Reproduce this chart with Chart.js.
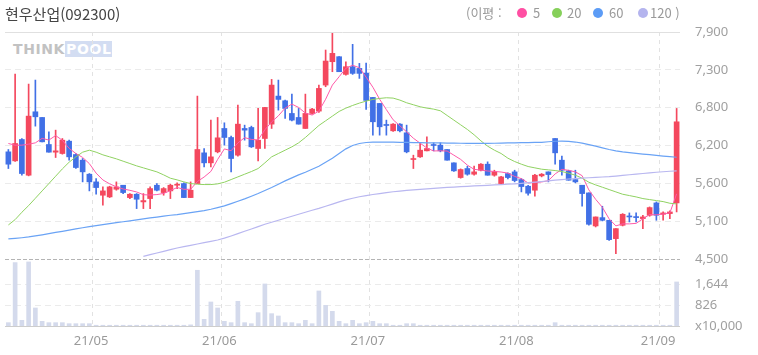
<!DOCTYPE html>
<html lang="ko">
<head>
<meta charset="utf-8">
<title>현우산업(092300)</title>
<script src="https://cdn.jsdelivr.net/npm/chart.js@4.4.1/dist/chart.umd.min.js"></script>
<style>
  html, body { margin: 0; padding: 0; background: #fff; }
  #wrap { position: relative; width: 758px; height: 355px; overflow: hidden;
          font-family: 'Noto Sans', 'Noto Sans CJK KR', sans-serif; }
  #chart { position: absolute; left: 0; top: 0; }
  .title { position: absolute; left: 5px; top: 0; line-height: 27px; font-size: 15px; color: #444;
           font-family: 'Noto Sans CJK KR', 'Noto Sans', sans-serif; }
  .lg { position: absolute; top: 0; line-height: 26px; font-size: 13px; color: #9a9a9a; white-space: nowrap;
        font-family: 'Noto Sans CJK KR', 'Noto Sans', sans-serif; }
  .dot { position: absolute; top: 8px; width: 10px; height: 10px; border-radius: 50%; }
  .logo { position: absolute; left: 13px; top: 41px; font-family: 'DejaVu Sans', sans-serif;
          font-weight: bold; font-size: 14px; letter-spacing: 0.6px; }
  .logo .a { color: #c2c2c2; }
  .logo .b { color: #fff; background: #d3ddf2; padding: 0 1px; }
</style>
</head>
<body>
<div id="wrap">
  <div class="logo"><span class="a">THINK</span><span class="b">POOL</span></div>
  <canvas id="chart" width="758" height="355"></canvas>
  <div class="title">현우산업(092300)</div>
  <div class="lg" style="left:466px">(이평 :</div>
  <div class="dot" style="left:517px;background:#ff4fa3"></div>
  <div class="lg" style="left:533px">5</div>
  <div class="dot" style="left:552px;background:#86d05a"></div>
  <div class="lg" style="left:567px">20</div>
  <div class="dot" style="left:593px;background:#5c9cf6"></div>
  <div class="lg" style="left:609px">60</div>
  <div class="dot" style="left:638px;background:#b4b4ee"></div>
  <div class="lg" style="left:650px">120 )</div>
</div>
<script>
'use strict';

/* ── DATA ── */
// trading days, Apr 14 – Sep 3 2021
const days = {
  '04': [14, 15, 16, 19, 20, 21, 22, 23, 26, 27, 28, 29, 30],
  '05': [3, 4, 6, 7, 10, 11, 12, 13, 14, 17, 18, 20, 21, 24, 25, 26, 27, 28, 31],
  '06': [1, 2, 3, 4, 7, 8, 9, 10, 11, 14, 15, 16, 17, 18, 21, 22, 23, 24, 25, 28, 29, 30],
  '07': [1, 2, 5, 6, 7, 8, 9, 12, 13, 14, 15, 16, 19, 20, 21, 22, 23, 26, 27, 28, 29, 30],
  '08': [2, 3, 4, 5, 6, 9, 10, 11, 12, 13, 17, 18, 19, 20, 23, 24, 25, 26, 27, 30, 31],
  '09': [1, 2, 3]
};

const opens = [
  6105, 5970, 6290, 5755, 6705, 6620, 6215, 6100, 6080, 6265,
  6065, 5980, 5770, 5655, 5455, 5430, 5545, 5605, 5420, 5470,
  5355, 5405, 5605, 5495, 5520, 5605, 5630, 5420, 5630, 6090,
  5940, 6105, 6455, 6320, 6055, 6455, 6470, 6155, 6305, 6520,
  6940, 6870, 6680, 6620, 6455, 6680, 6715, 7105, 7455, 7530,
  7265, 7380, 7355, 7285, 6920, 6830, 6510, 6420, 6520, 6390,
  5990, 6030, 6120, 6210, 6205, 6140, 5940, 5720, 5855, 5770,
  5830, 5920, 5755, 5630, 5780, 5805, 5690, 5590, 5530, 5745,
  5805, 6305, 5980, 5820, 5690, 5605, 5490, 4995, 5120, 5080,
  4805, 5005, 5140, 5130, 5105, 5155, 5340, 5170, 5180, 5340
];
const highs = [
  6140, 7270, 6305, 7120, 7180, 6620, 6405, 6430, 6305, 6280,
  6080, 6005, 5780, 5705, 5580, 5590, 5655, 5605, 5480, 5480,
  5480, 5580, 5630, 5570, 5620, 5640, 5640, 5655, 6940, 6155,
  6580, 6620, 6540, 6340, 6805, 6505, 6490, 6755, 6770, 7190,
  7180, 6880, 6970, 6755, 6970, 6755, 7105, 7630, 7880, 7530,
  7455, 7715, 7430, 7435, 6920, 6830, 6580, 6530, 6530, 6505,
  6055, 6240, 6330, 6240, 6240, 6140, 5940, 5850, 5890, 5890,
  5930, 5955, 5830, 5740, 5790, 5830, 5705, 5605, 5770, 5780,
  5805, 6305, 6040, 5830, 5830, 5605, 5490, 5130, 5290, 5080,
  4955, 5180, 5190, 5190, 5155, 5280, 5355, 5205, 5220, 6755
];
const lows = [
  5855, 5960, 5755, 5745, 6490, 6255, 6100, 6020, 6070, 5980,
  5855, 5655, 5520, 5470, 5305, 5420, 5530, 5480, 5405, 5255,
  5255, 5255, 5520, 5455, 5405, 5555, 5420, 5420, 5630, 5880,
  5880, 6090, 6205, 5805, 6040, 6280, 6170, 5970, 6155, 6455,
  6730, 6605, 6570, 6520, 6455, 6670, 6695, 7080, 7305, 7305,
  7255, 7265, 7205, 6740, 6355, 6355, 6355, 6410, 6405, 6090,
  5855, 6020, 6120, 6120, 6105, 5980, 5810, 5710, 5755, 5755,
  5820, 5755, 5740, 5620, 5700, 5655, 5505, 5455, 5440, 5730,
  5655, 5920, 5755, 5680, 5640, 5290, 5005, 4980, 5070, 4780,
  4580, 4995, 5055, 5055, 4955, 5140, 5080, 5080, 5105, 5205
];
const closes = [
  5920, 6230, 5780, 6640, 6630, 6255, 6100, 6120, 6280, 6030,
  5870, 5805, 5655, 5570, 5520, 5580, 5580, 5495, 5470, 5395,
  5375, 5555, 5530, 5555, 5605, 5610, 5420, 5530, 6140, 5940,
  6030, 6315, 6320, 6005, 6520, 6430, 6180, 6280, 6770, 7105,
  6890, 6755, 6580, 6520, 6680, 6745, 7055, 7465, 7580, 7305,
  7380, 7280, 7280, 6875, 6555, 6480, 6500, 6520, 6420, 6105,
  6000, 6130, 6155, 6200, 6120, 5980, 5820, 5840, 5770, 5805,
  5920, 5755, 5805, 5730, 5720, 5675, 5585, 5485, 5755, 5770,
  5765, 6090, 5830, 5680, 5655, 5480, 5020, 5130, 5080, 4790,
  4955, 5170, 5130, 5120, 5130, 5270, 5155, 5190, 5205, 6555
];
// volume, x10,000 shares
const volumes = [
  132, 2508, 224, 2534, 713, 185, 132, 132, 132, 92,
  92, 92, 92, 30, 30, 30, 30, 30, 30, 30,
  30, 30, 30, 30, 30, 30, 30, 45, 2204, 264,
  950, 713, 185, 132, 977, 132, 92, 528, 1663, 488,
  396, 132, 132, 92, 224, 92, 1386, 818, 581, 185,
  92, 224, 92, 132, 185, 92, 92, 30, 30, 92,
  92, 30, 30, 30, 30, 30, 30, 30, 30, 30,
  30, 30, 30, 30, 30, 30, 30, 30, 30, 30,
  30, 132, 30, 30, 30, 30, 30, 30, 30, 30,
  30, 30, 30, 30, 30, 30, 30, 30, 30, 1742
];
const ma5 = [
  6230, 6205, 6205, 6220, 6240, 6307, 6281, 6349, 6277, 6157,
  6080, 6021, 5928, 5786, 5684, 5626, 5581, 5549, 5529, 5504,
  5463, 5458, 5465, 5482, 5524, 5571, 5544, 5544, 5661, 5728,
  5812, 5991, 6149, 6122, 6238, 6318, 6291, 6283, 6436, 6553,
  6645, 6760, 6820, 6770, 6685, 6656, 6716, 6893, 7105, 7230,
  7357, 7402, 7365, 7223, 7073, 6893, 6737, 6585, 6495, 6405,
  6309, 6235, 6162, 6118, 6121, 6117, 6055, 5992, 5906, 5843,
  5831, 5818, 5811, 5803, 5786, 5737, 5703, 5639, 5644, 5654,
  5673, 5774, 5843, 5828, 5805, 5748, 5534, 5394, 5274, 5101,
  4996, 5026, 5026, 5034, 5102, 5165, 5162, 5174, 5191, 5476
];
const ma20 = [
  5010, 5090, 5200, 5300, 5410, 5520, 5630, 5740, 5850, 5950,
  6030, 6100, 6130, 6100, 6060, 6030, 6000, 5965, 5930, 5895,
  5865, 5835, 5805, 5760, 5710, 5685, 5655, 5630, 5620, 5615,
  5615, 5625, 5650, 5690, 5730, 5770, 5810, 5855, 5940, 6030,
  6080, 6130, 6180, 6240, 6320, 6410, 6500, 6570, 6640, 6710,
  6760, 6800, 6835, 6865, 6890, 6905, 6915, 6910, 6880, 6840,
  6810, 6780, 6760, 6745, 6720, 6650, 6580, 6510, 6440, 6360,
  6270, 6190, 6130, 6080, 6010, 5960, 5920, 5885, 5865, 5845,
  5835, 5825, 5810, 5785, 5755, 5710, 5650, 5610, 5575, 5540,
  5505, 5470, 5450, 5430, 5405, 5390, 5375, 5360, 5335, 5325
];
const ma60 = [
  4800, 4808, 4818, 4830, 4845, 4862, 4880, 4898, 4915, 4932,
  4950, 4968, 4985, 5000, 5015, 5030, 5045, 5058, 5072, 5086,
  5100, 5115, 5128, 5142, 5155, 5165, 5180, 5195, 5210, 5225,
  5245, 5270, 5295, 5330, 5365, 5400, 5440, 5480, 5525, 5570,
  5620, 5670, 5715, 5760, 5800, 5845, 5890, 5950, 6010, 6080,
  6150, 6200, 6230, 6245, 6250, 6252, 6252, 6250, 6248, 6246,
  6244, 6242, 6240, 6240, 6238, 6236, 6235, 6234, 6233, 6232,
  6232, 6232, 6234, 6236, 6238, 6240, 6242, 6244, 6246, 6248,
  6256, 6264, 6266, 6262, 6252, 6236, 6214, 6190, 6165, 6140,
  6120, 6104, 6092, 6082, 6072, 6062, 6052, 6042, 6032, 6024
];
const ma120 = [
  null, null, null, null, null, null, null, null, null, null,
  null, null, null, null, null, null, null, null, null, null,
  4540, 4565, 4590, 4615, 4640, 4665, 4685, 4705, 4725, 4745,
  4765, 4785, 4812, 4845, 4880, 4915, 4950, 4985, 5020, 5050,
  5080, 5110, 5140, 5170, 5200, 5230, 5258, 5290, 5322, 5355,
  5385, 5410, 5432, 5450, 5466, 5480, 5494, 5507, 5518, 5528,
  5536, 5544, 5551, 5558, 5565, 5572, 5578, 5584, 5589, 5594,
  5599, 5604, 5609, 5614, 5620, 5626, 5634, 5643, 5652, 5661,
  5670, 5680, 5690, 5698, 5705, 5711, 5717, 5723, 5728, 5733,
  5742, 5752, 5762, 5772, 5781, 5790, 5799, 5807, 5814, 5821
];

// axis ticks as shown on the right side
const priceTicks  = [4500, 5066.7, 5633.3, 6200, 6766.7, 7333.3, 7900];
const priceLabels = ['4,500', '5,100', '5,600', '6,200', '6,800', '7,300', '7,900'];
const volTicks  = [0, 826, 1644];
const volLabels = ['x10,000', '826', '1,644'];

/* ── LAYOUT CONSTANTS ── */
const TOP = 32, SPLIT = 259, BOTTOM = 326;           // px
const PRICE_MAX = 7900, PRICE_LOW = 4500;
const PRICE_MIN = PRICE_MAX - (PRICE_MAX - PRICE_LOW) * (BOTTOM - TOP) / (SPLIT - TOP);
const VOL_TOP = 2650;                                 // volume value at the split line
const VOL_MAX = VOL_TOP * (BOTTOM - TOP) / (BOTTOM - SPLIT);

const RED = '#f4485e';
const BLUE = '#4170e6';
const GRID = '#ebebeb';

/* ── BUILD ── */
const dates = [];
Object.keys(days).forEach(m => days[m].forEach(d => dates.push('21/' + m + '/' + String(d).padStart(2, '0'))));

const monthLabel = {};
dates.forEach((d, i) => {
  if (i > 0 && d.slice(0, 5) !== dates[i - 1].slice(0, 5)) monthLabel[i] = d.slice(0, 5);
});

const candleColor = opens.map((o, i) => closes[i] >= o ? RED : BLUE);

// the right axis shows both panels: volume ticks are placed at the same height on the price scale
const volToPrice = v => PRICE_MIN + v / VOL_MAX * (PRICE_MAX - PRICE_MIN);
const axisTicks = [];
volTicks.forEach((v, i) => axisTicks.push({
  value: volToPrice(v), label: volLabels[i],
  color: v === 0 ? '#cdcdcd' : GRID, dash: v === 0 ? [] : [6, 4]
}));
priceTicks.forEach((v, i) => axisTicks.push({
  value: v, label: priceLabels[i],
  color: v === PRICE_LOW ? '#b4b4b4' : (v === PRICE_MAX ? '#e0e0e0' : GRID),
  dash: v === PRICE_LOW ? [4, 2] : (v === PRICE_MAX ? [] : [6, 4])
}));

function maLine(label, data, color, width) {
  return {
    type: 'line', label: label, data: data, yAxisID: 'y',
    borderColor: color, borderWidth: width, pointRadius: 0, tension: 0,
    spanGaps: false, order: 0
  };
}

Chart.defaults.font.family = "'Noto Sans', sans-serif";

new Chart(document.getElementById('chart'), {
  type: 'bar',
  data: {
    labels: dates,
    datasets: [
      maLine('120', ma120, '#b9b7f0', 1.2),
      maLine('60', ma60, '#6aa3f5', 1.2),
      maLine('20', ma20, '#90d262', 1),
      maLine('5', ma5, '#ff5aa8', 1),
      {
        label: 'body', data: opens.map((o, i) => [o, closes[i]]), yAxisID: 'y',
        backgroundColor: candleColor, barThickness: 5, minBarLength: 1, grouped: false, order: 2
      },
      {
        label: 'wick', data: lows.map((l, i) => [l, highs[i]]), yAxisID: 'y',
        backgroundColor: candleColor, barThickness: 1, grouped: false, order: 3
      },
      {
        label: 'volume', data: volumes, yAxisID: 'yv',
        backgroundColor: '#d4daec', barThickness: 4, grouped: false, order: 4
      }
    ]
  },
  options: {
    responsive: false,
    animation: false,
    layout: { padding: { top: TOP, left: 5, right: 0, bottom: 0 } },
    plugins: { legend: { display: false }, tooltip: { enabled: false } },
    scales: {
      x: {
        type: 'category', offset: true,
        grid: {
          offset: true, drawTicks: false,
          color: c => (c.index in monthLabel) ? '#e2e2e2' : 'rgba(0,0,0,0)'
        },
        border: { display: false, dash: [4, 4] },
        ticks: {
          autoSkip: false, maxRotation: 0, minRotation: 0, padding: 7, labelOffset: -5,
          color: '#9a9a9a', font: { size: 13 },
          callback: (v, i) => monthLabel[i] || ''
        },
        afterFit: s => { s.height = 355 - BOTTOM; }
      },
      y: {
        type: 'linear', position: 'right', min: PRICE_MIN, max: PRICE_MAX, bounds: 'data',
        afterBuildTicks: s => { s.ticks = axisTicks.map(t => ({ value: t.value })); },
        afterFit: s => { s.width = 78; },
        grid: {
          drawTicks: false,
          color: c => axisTicks[c.index] ? axisTicks[c.index].color : GRID
        },
        border: {
          display: false,
          dash: c => axisTicks[c.index] ? axisTicks[c.index].dash : [6, 4]
        },
        ticks: {
          autoSkip: false, padding: 15, color: '#a0a0a0', font: { size: 13 },
          callback: (v, i) => axisTicks[i].label
        }
      },
      yv: {
        type: 'linear', display: false, min: 0, max: VOL_MAX
      }
    }
  }
});
</script>
</body>
</html>
